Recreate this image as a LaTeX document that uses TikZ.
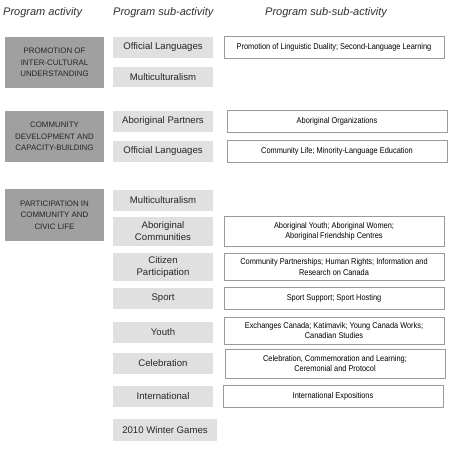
\documentclass[tikz,border=0pt]{standalone}
\usepackage{fontspec}
\setmainfont{Liberation Sans}
\newfontfamily\narrowfont[FakeStretch=0.88]{Liberation Sans}
\usepackage{xcolor}
\usepackage{tikz}
\usetikzlibrary{positioning}

\definecolor{actgray}{HTML}{A0A0A0}
\definecolor{subgray}{HTML}{E0E0E0}
\definecolor{linegray}{HTML}{9A9A9A}
\definecolor{headgray}{HTML}{303030}

\begin{document}
\begin{tikzpicture}[
  x=1pt, y=-1pt,
  node distance=7pt and 11pt,
  head/.style={anchor=west, inner sep=0pt, text=headgray, font=\fontsize{11}{13}\selectfont\itshape},
  actbox/.style={anchor=north west, fill=actgray, align=center, outer sep=0pt, inner sep=2pt,
    minimum width=99pt, minimum height=51pt, text=black!85, font=\fontsize{7.9}{11.6}\selectfont},
  subbox/.style={anchor=north west, fill=subgray, align=center, outer sep=0pt, inner sep=2pt,
    minimum width=100pt, minimum height=21pt, text=black!85, font=\fontsize{9.6}{12}\selectfont},
  subsub/.style={draw=linegray, fill=white, align=center, outer sep=0pt, inner sep=2pt,
    minimum width=220pt, minimum height=22pt, font=\narrowfont\fontsize{8.4}{10.5}\selectfont}
]
\useasboundingbox[fill=white] (0,0) rectangle (450,455);

% column headings
\node[head] (hact) at (3,13) {Program activity};
\node[head] (hsub) at (113,13) {Program sub-activity};
\node[head] (hsubsub) at (265,13) {Program sub-sub-activity};

% program activities
\node[actbox] (promo) at (5,37) {PROMOTION OF\\INTER-CULTURAL\\UNDERSTANDING};
\node[actbox] (commdev) at (5,111) {COMMUNITY\\DEVELOPMENT AND\\CAPACITY-BUILDING};
\node[actbox, minimum height=52pt] (partic) at (5,189) {PARTICIPATION IN\\COMMUNITY AND\\CIVIC LIFE};

% sub-activities
\node[subbox] (offlang) at (113,37) {Official Languages};
\node[subbox, minimum height=20pt] (multi) at (113,67) {Multiculturalism};
\node[subbox] (abpart) at (113,111) {Aboriginal Partners};
\node[subbox] (offlangb) at (113,141) {Official Languages};
\node[subbox] (multib) at (113,190) {Multiculturalism};
\node[subbox, minimum height=29pt] (abcomm) at (113,217) {Aboriginal\\Communities};
\node[subbox, minimum height=28pt] (citizen) at (113,253) {Citizen\\Participation};
\node[subbox] (sport) at (113,288) {Sport};
\node[subbox] (youth) at (113,322) {Youth};
\node[subbox] (celeb) at (113,353) {Celebration};
\node[subbox] (intl) at (113,386) {International};
\node[subbox, minimum width=104pt, minimum height=22pt] (games) at (113,419) {2010 Winter Games};

% sub-sub-activities
\node[subsub, right=of offlang] (duality) {Promotion of Linguistic Duality; Second-Language Learning};
\node[subsub, right=14pt of abpart] (aborg) {Aboriginal Organizations};
\node[subsub, right=14pt of offlangb] (comlife) {Community Life; Minority-Language Education};
\node[subsub, minimum height=30pt, right=of abcomm] (abyouth) {Aboriginal Youth; Aboriginal Women;\\Aboriginal Friendship Centres};
\node[subsub, minimum height=27pt, right=of citizen] (partner) {Community Partnerships; Human Rights; Information and\\Research on Canada};
\node[subsub, right=of sport] (sportsup) {Sport Support; Sport Hosting};
\node[subsub, minimum height=27pt, right=of youth, yshift=2pt] (exch) {Exchanges Canada; Katimavik; Young Canada Works;\\Canadian Studies};
\node[subsub, minimum height=29pt, right=12pt of celeb] (ceremon) {Celebration, Commemoration and Learning;\\Ceremonial and Protocol};
\node[subsub, right=10pt of intl] (expo) {International Expositions};
\end{tikzpicture}
\end{document}
